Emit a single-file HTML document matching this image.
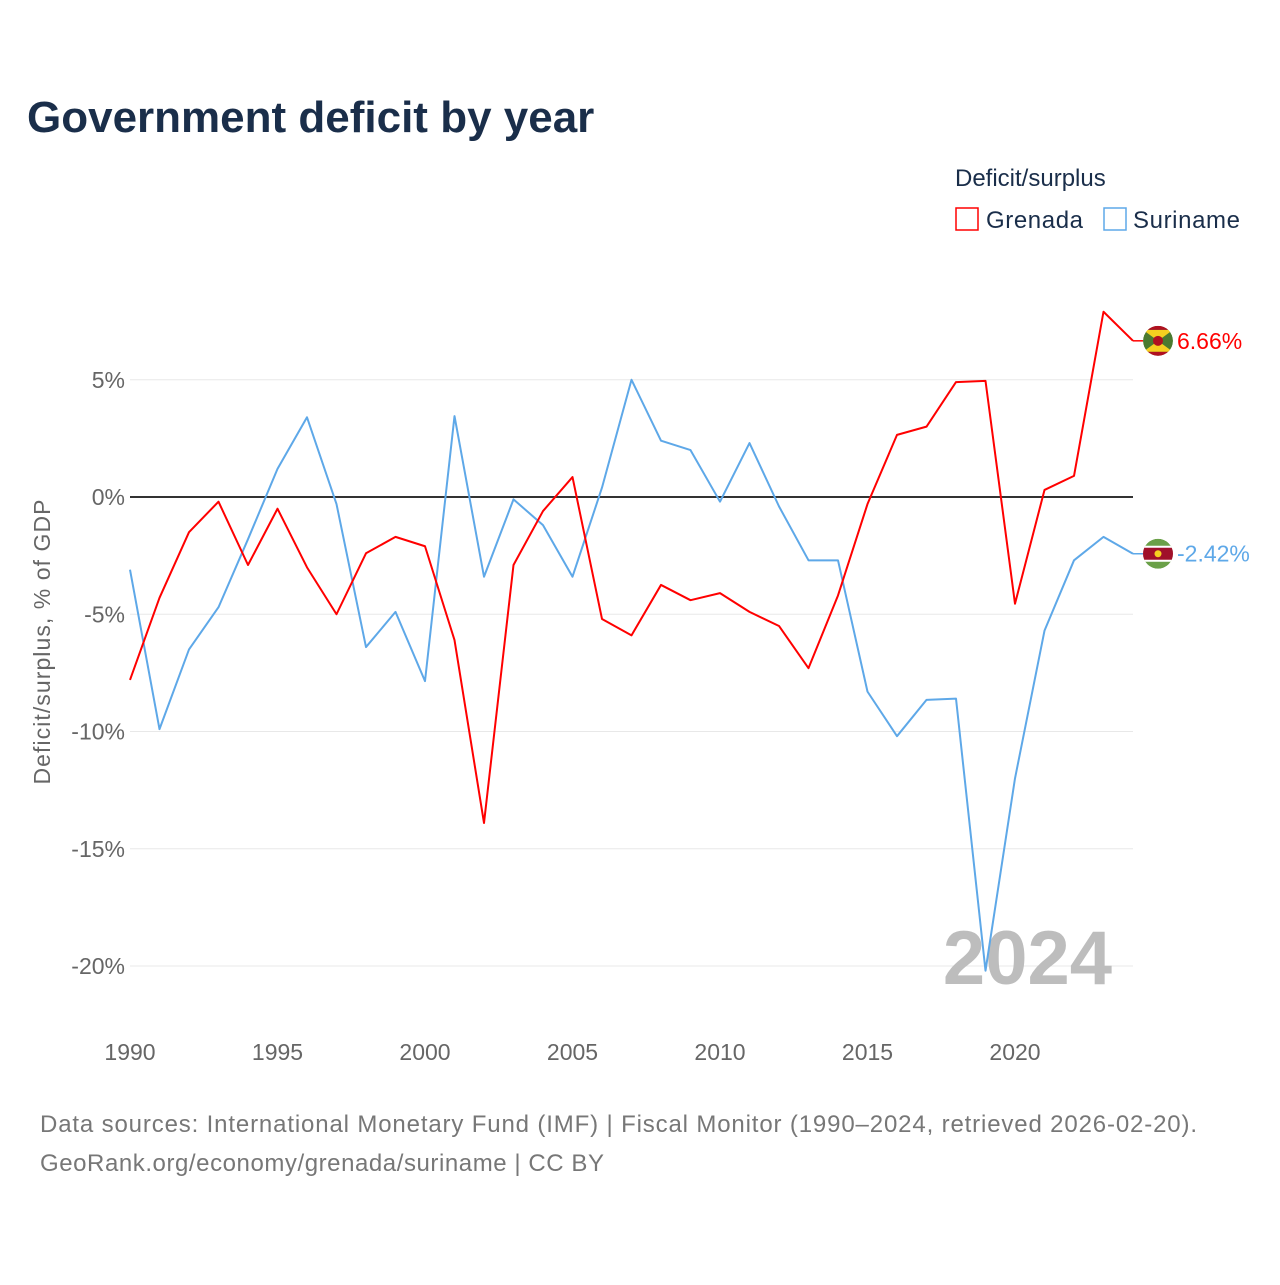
<!DOCTYPE html>
<html><head><meta charset="utf-8"><style>
body{margin:0;background:#fff;font-family:"Liberation Sans",sans-serif;}
</style></head><body>
<svg id="chart" width="1280" height="1280" xmlns="http://www.w3.org/2000/svg" style="font-family:'Liberation Sans',sans-serif">
<defs><clipPath id="flagclip"><circle cx="0" cy="0" r="15"/></clipPath></defs>
<text x="27" y="132" font-size="44" font-weight="bold" fill="#1a2e4a">Government deficit by year</text>
<text x="955" y="186" font-size="24" fill="#1a2e4a">Deficit/surplus</text>
<g><rect x="956" y="208" width="22" height="22" fill="none" stroke="#ff0000" stroke-width="1.5"/><text x="986" y="228" font-size="24" fill="#1a2e4a" textLength="97">Grenada</text></g>
<g><rect x="1104" y="208" width="22" height="22" fill="none" stroke="#5ea8e8" stroke-width="1.5"/><text x="1133" y="228" font-size="24" fill="#1a2e4a" textLength="107">Suriname</text></g>
<g id="grid"></g>
<text x="1112" y="984" text-anchor="end" font-size="76" font-weight="bold" fill="#bdbdbd">2024</text>
<g id="series"></g>
<text transform="translate(50,642) rotate(-90)" text-anchor="middle" font-size="23" fill="#666" textLength="285">Deficit/surplus, % of GDP</text>
<text x="40" y="1132" font-size="24" fill="#777" textLength="1157">Data sources: International Monetary Fund (IMF) | Fiscal Monitor (1990–2024, retrieved 2026-02-20).</text>
<text x="40" y="1171" font-size="24" fill="#777" textLength="564">GeoRank.org/economy/grenada/suriname | CC BY</text>
</svg>
<script>
const years=[];for(let y=1990;y<=2024;y++)years.push(y);
const grenada=[-7.8,-4.3,-1.5,-0.2,-2.9,-0.5,-3.0,-5.0,-2.4,-1.7,-2.1,-6.1,-13.9,-2.9,-0.6,0.85,-5.2,-5.9,-3.75,-4.4,-4.1,-4.9,-5.5,-7.3,-4.2,-0.3,2.65,3.0,4.9,4.95,-4.55,0.3,0.9,7.9,6.66];
const suriname=[-3.1,-9.9,-6.5,-4.7,-1.8,1.2,3.4,-0.3,-6.4,-4.9,-7.85,3.45,-3.4,-0.1,-1.2,-3.4,0.4,5.0,2.4,2.0,-0.2,2.3,-0.4,-2.7,-2.7,-8.3,-10.2,-8.65,-8.6,-20.2,-12.0,-5.7,-2.7,-1.7,-2.42];
const yTicks=[5,0,-5,-10,-15,-20];
const xTicks=[1990,1995,2000,2005,2010,2015,2020];
const NS="http://www.w3.org/2000/svg";
const xs=v=>130+(v-1990)*(1133-130)/34;
const ys=v=>497-v*23.45;
const grid=document.getElementById('grid'),ser=document.getElementById('series');
function mk(tag,attrs,parent){const e=document.createElementNS(NS,tag);for(const k in attrs)e.setAttribute(k,attrs[k]);parent.appendChild(e);return e;}
yTicks.forEach(t=>{
 const l=mk('line',{x1:130,x2:1133,y1:ys(t),y2:ys(t),stroke:t===0?'#333':'#e8e8e8','stroke-width':t===0?2:1},grid);
 
 
 const tx=mk('text',{x:125,y:ys(t)+8,'text-anchor':'end','font-size':23,fill:'#666'},grid);
 tx.textContent=t+'%';
 
 
});
xTicks.forEach(t=>{
 const tx=mk('text',{x:xs(t),y:1060,'text-anchor':'middle','font-size':23,fill:'#666'},grid);
 tx.textContent=t;
 
 
});
function line(vals,color,name){
 const p=mk('polyline',{points:vals.map((v,i)=>xs(years[i])+','+ys(v)).join(' '),fill:'none',stroke:color,'stroke-width':2,'stroke-linejoin':'round'},ser);
 
 
}
line(suriname,'#5ea8e8','suriname-line');
line(grenada,'#ff0000','grenada-line');
function endLabel(v,color,name,flag){
 const cx=1158,cy=ys(v);
 const g=mk('g',{},ser);
 
 
 mk('line',{x1:1133,y1:cy,x2:1143,y2:cy,stroke:color,'stroke-width':1.5},g);
 const f=mk('g',{transform:`translate(${cx},${cy})`,'clip-path':'url(#flagclip)'},g);
 flag(f);
 const t=mk('text',{x:1177,y:cy+8,'font-size':23,fill:color},g);
 t.textContent=v.toFixed(2)+'%';
}
endLabel(grenada[34],'#ff0000','grenada-end-label',(g)=>{
 mk('circle',{cx:0,cy:0,r:15,fill:'#4a7a30'},g);
 mk('polygon',{points:'-15,-11 15,-11 0,0',fill:'#f5d020'},g);
 mk('polygon',{points:'-15,11 15,11 0,0',fill:'#f5d020'},g);
 mk('circle',{cx:0,cy:0,r:5,fill:'#b01020'},g);
 mk('rect',{x:-15,y:-15,width:30,height:4,fill:'#b01020'},g);
 mk('rect',{x:-15,y:11,width:30,height:4,fill:'#b01020'},g);
});
endLabel(suriname[34],'#5ea8e8','suriname-end-label',(g)=>{
 mk('circle',{cx:0,cy:0,r:15,fill:'#6aa048'},g);
 mk('rect',{x:-15,y:-8,width:30,height:16,fill:'#fff'},g);
 mk('rect',{x:-15,y:-6,width:30,height:12,fill:'#a0102a'},g);
 mk('circle',{cx:0,cy:0,r:3.5,fill:'#f5d020'},g);
});
</script>
</body></html>
